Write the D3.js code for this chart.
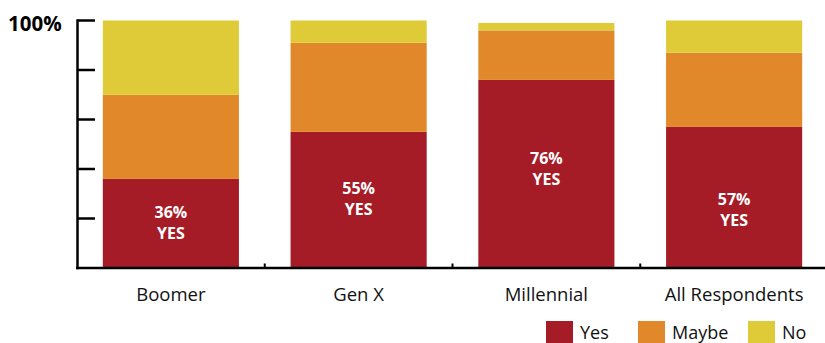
<!DOCTYPE html>
<html>
<head>
<meta charset="utf-8">
<script src="https://cdn.jsdelivr.net/npm/d3@7"></script>
<style>
  body { margin: 0; background: #fff; }
  svg { display: block; font-family: "Open Sans", "Noto Sans", sans-serif; }
</style>
</head>
<body>
<svg id="chart" width="825" height="343"></svg>
<script>
// データ（％）
const categories = ["Boomer", "Gen X", "Millennial", "All Respondents"];
const yesValues = [36, 55, 76, 57];
const maybeValues = [34, 36, 20, 30];
const noValues = [30, 9, 3, 13];
// ラベルの縦位置（％の高さ）
const labelAt = [18, 28, 40, 23.6];
const seriesNames = ["Yes", "Maybe", "No"];
const yTicks = [0, 20, 40, 60, 80, 100];

const colors = { Yes: "#A51C27", Maybe: "#E0882A", No: "#DECB37" };

const svg = d3.select("#chart");

const x = d3.scaleBand().domain(categories).range([77, 828])
  .paddingInner(0.275).paddingOuter(0.1375);
const y = d3.scaleLinear().domain([0, 100]).range([268, 20.5]);

// 積み上げ用データ
const rows = categories.map((c, i) => ({ cat: c, Yes: yesValues[i], Maybe: maybeValues[i], No: noValues[i] }));
const stacked = d3.stack().keys(seriesNames)(rows);

svg.append("g").selectAll("g").data(stacked)
  .enter().append("g")
  .attr("fill", d => colors[d.key])
  .selectAll("rect").data(d => d)
  .enter().append("rect")
  .attr("x", d => x(d.data.cat))
  .attr("width", x.bandwidth())
  .attr("y", d => y(d[1]))
  .attr("height", d => y(d[0]) - y(d[1]));

// 軸
const yAxis = svg.append("g");
yAxis.append("line")
  .attr("x1", 77.5).attr("x2", 77.5)
  .attr("y1", y(100) - 1.2).attr("y2", y(0) + 1.2)
  .attr("stroke", "#000").attr("stroke-width", 2.5);
yAxis.selectAll("line.tick").data(yTicks.slice(1))
  .enter().append("line")
  .attr("class", "tick")
  .attr("x1", 77.5).attr("x2", 95)
  .attr("y1", d => y(d)).attr("y2", d => y(d))
  .attr("stroke", "#000").attr("stroke-width", 2.5);

svg.append("line")
  .attr("x1", 76).attr("x2", 825)
  .attr("y1", y(0)).attr("y2", y(0))
  .attr("stroke", "#000").attr("stroke-width", 2.5);

// カテゴリ区切りの目盛り
const step = x.step();
svg.selectAll("line.sep").data(categories.slice(1))
  .enter().append("line")
  .attr("class", "sep")
  .attr("x1", d => x(d) - x.paddingInner() * step / 2)
  .attr("x2", d => x(d) - x.paddingInner() * step / 2)
  .attr("y1", y(0)).attr("y2", y(0) - 4.5)
  .attr("stroke", "#000").attr("stroke-width", 2);

svg.append("text")
  .attr("x", 8).attr("y", 31)
  .attr("font-size", 20.5).attr("font-weight", "bold")
  .text(yTicks[yTicks.length - 1] + "%");

// カテゴリラベル
svg.selectAll("text.cat").data(categories)
  .enter().append("text")
  .attr("class", "cat")
  .attr("x", d => x(d) + x.bandwidth() / 2)
  .attr("y", 301)
  .attr("text-anchor", "middle")
  .attr("font-size", 18.5)
  .attr("fill", "#111")
  .text(d => d);

// バー内のラベル
const lbl = svg.selectAll("g.lbl").data(categories)
  .enter().append("g")
  .attr("class", "lbl")
  .attr("transform", (d, i) => `translate(${x(d) + x.bandwidth() / 2},${y(labelAt[i])})`)
  .attr("fill", "#fff")
  .attr("font-weight", "bold")
  .attr("font-size", 16)
  .attr("text-anchor", "middle");
lbl.append("text").attr("y", -5).text((d, i) => yesValues[i] + "%");
lbl.append("text").attr("y", 16).text("YES");

// 凡例
const legendX = [546, 638, 748];
const legend = svg.selectAll("g.legend").data(seriesNames)
  .enter().append("g")
  .attr("class", "legend")
  .attr("transform", (d, i) => `translate(${legendX[i]},321)`);
legend.append("rect")
  .attr("width", 27).attr("height", 22)
  .attr("fill", d => colors[d]);
legend.append("text")
  .attr("x", 34).attr("y", 17.5)
  .attr("font-size", 18)
  .attr("fill", "#111")
  .text(d => d);
</script>
</body>
</html>
